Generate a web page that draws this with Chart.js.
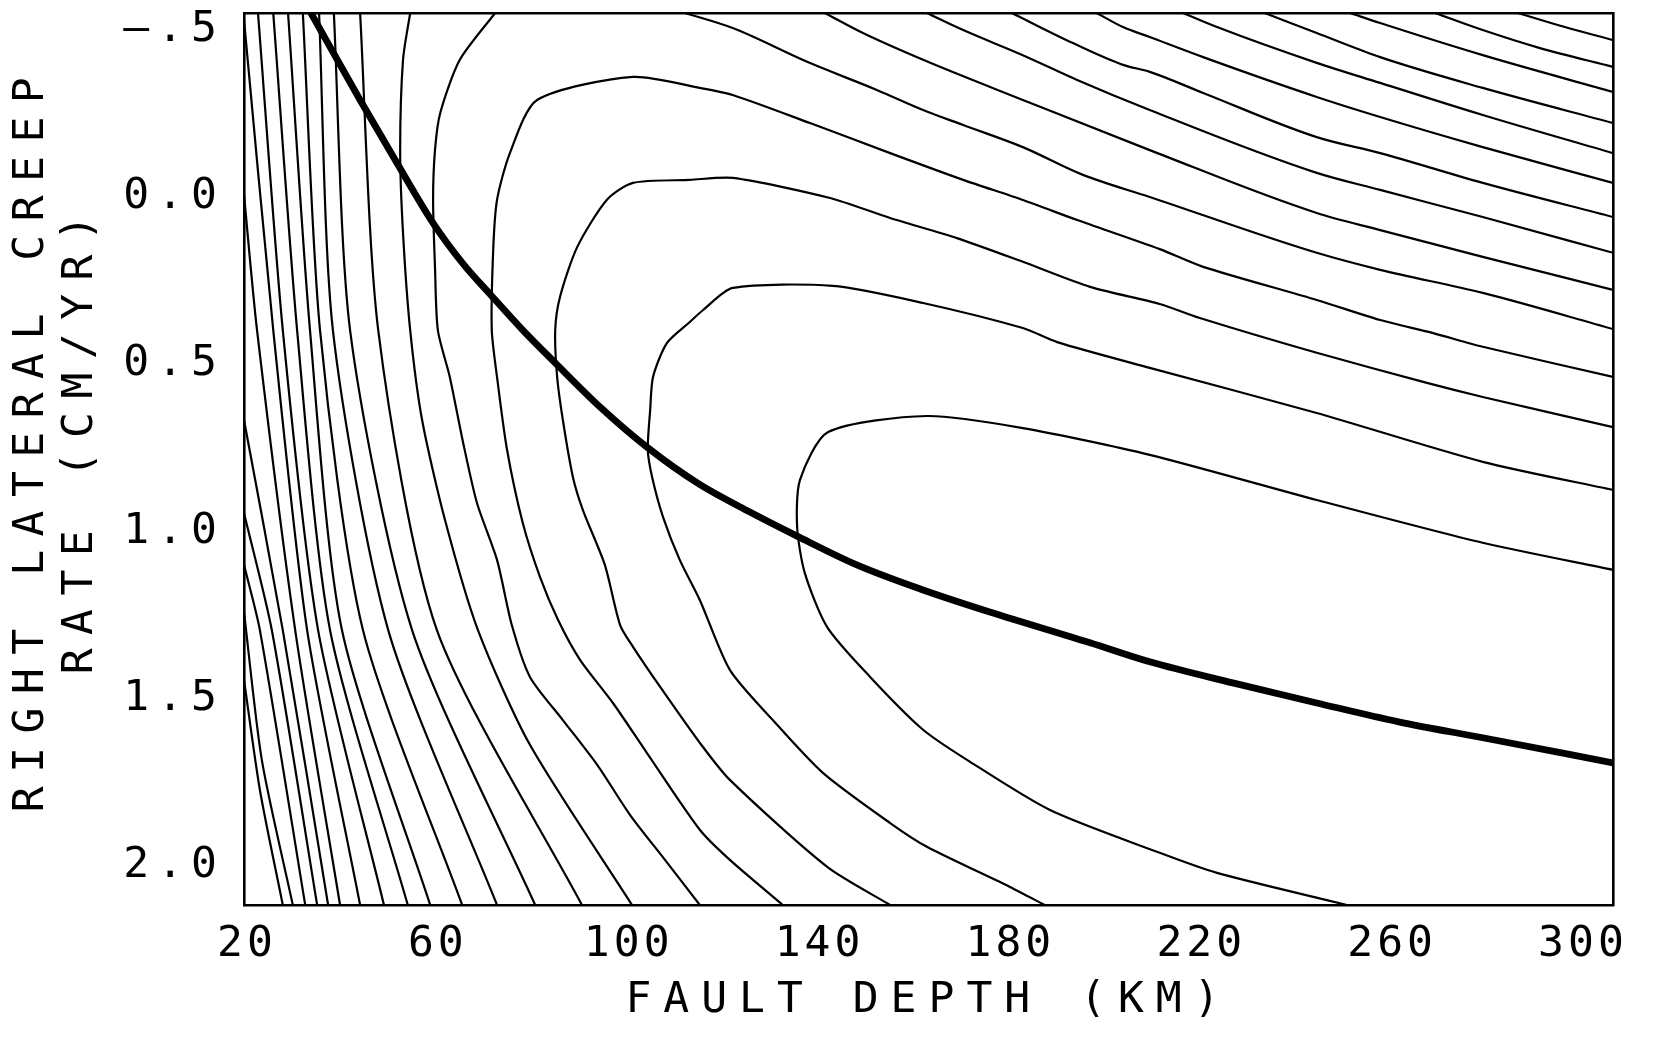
<!DOCTYPE html>
<html><head><meta charset="utf-8">
<style>html,body{margin:0;padding:0;background:#fff;}canvas{display:block;}</style>
<script src="https://cdn.jsdelivr.net/npm/chart.js@4.4.1/dist/chart.umd.min.js"></script>
</head><body>
<canvas id="c" width="1660" height="1038"></canvas>
<script>
// ---- axis labels ----
const xTicks = [20, 60, 100, 140, 180, 220, 260, 300];
const yTicks = [-0.5, 0, 0.5, 1, 1.5, 2];
const yTickLabels = ['\u2014.5', '0.0', '0.5', '1.0', '1.5', '2.0'];
const xTitle = 'FAULT DEPTH (KM)';
const yTitle = ['RIGHT LATERAL CREEP', 'RATE (CM/YR)'];

// ---- best-fit trade-off curve (fault depth km, creep cm/yr) ----
const bestFit = [[33.4,-0.55],[43.7,-0.290],[51.4,-0.102],[59.0,0.078],[65.3,0.200],[70.9,0.290],[77.8,0.398],[84.8,0.499],[94.0,0.628],[104.0,0.750],[114.7,0.858],[125.4,0.942],[135.3,1.014],[147.8,1.100],[161.7,1.175],[175.7,1.241],[196.7,1.333],[209.2,1.390],[226.6,1.453],[244.2,1.513],[261.6,1.570],[279.0,1.617],[306.3,1.692]];

// ---- contours crossing the left / bottom part ----
const cT1 = [[22.3,-0.55],[27.5,0.398],[34.9,1.295],[48.7,2.117]];
const cT2 = [[25.5,-0.55],[30.5,0.398],[37.4,1.295],[53.7,2.117]];
const cT3 = [[28.6,-0.55],[33.2,0.398],[39.9,1.295],[58.4,2.117]];
const cT4 = [[31.7,-0.55],[35.3,0.398],[44.3,1.295],[65.1,2.117]];
const cT5 = [[35.1,-0.55],[38.0,0.398],[49.6,1.295],[72.4,2.117]];
const cT6 = [[38.2,-0.55],[41.6,0.398],[54.6,1.295],[80.4,2.117]];
const cT7 = [[43.7,-0.55],[47.5,0.398],[59.8,1.295],[90.2,2.117]];
const cT8 = [[54.2,-0.55],[52.7,-0.41],[52.1,-0.14],[52.7,0.108],[54.2,0.398],[56.7,0.667],[61.5,0.966],[68.4,1.295],[79.3,1.638],[100.7,2.117]];
const cN1 = [[19.37,-0.529],[25.5,0.398],[32.6,1.295],[43.7,2.117]];
const cN2 = [[19.37,-0.006],[22.1,0.398],[30.1,1.295],[39.5,2.117]];
const cN3 = [[19.37,0.667],[27.5,1.295],[37.0,2.117]];
const cN4 = [[19.37,0.945],[25.2,1.295],[34.7,2.117]];
const cN5 = [[19.37,1.100],[22.7,1.295],[32.2,2.117]];
const cN6 = [[19.37,1.241],[23.1,1.683],[29.6,2.117]];
const cN7 = [[19.37,1.444],[22.7,1.773],[27.5,2.117]];

// ---- hook / loop contours around the minimum ----
const cA = [[72.0,-0.55],[64.6,-0.41],[60.5,-0.251],[59.4,-0.14],[59.0,0.009],[59.4,0.209],[60.0,0.398],[62.5,0.538],[65.3,0.735],[68.2,0.915],[72.4,1.085],[75.5,1.280],[79.3,1.435],[86.2,1.564],[93.4,1.698],[100.3,1.848],[107.6,1.982],[114.9,2.117]];
const cB = [[306.3,0.538],[279.0,0.448],[268.6,0.407],[257.5,0.368],[244.2,0.308],[220.4,0.209],[211.3,0.156],[194.0,0.069],[182.6,0.009],[170.1,-0.051],[154.8,-0.131],[138.0,-0.221],[121.8,-0.305],[114.9,-0.326],[100.9,-0.359],[80.8,-0.290],[75.1,-0.131],[72.4,0.009],[71.6,0.159],[71.3,0.398],[72.4,0.538],[74.5,0.756],[77.8,0.975],[81.4,1.136],[85.2,1.265],[89.8,1.384],[96.7,1.513],[103.8,1.662],[114.9,1.892],[121.2,1.982],[132.3,2.117]];
const cC = [[306.3,0.688],[279.0,0.598],[267.3,0.556],[244.2,0.466],[219.7,0.362],[211.3,0.320],[196.7,0.269],[182.6,0.194],[168.8,0.123],[154.8,0.063],[142.2,0.003],[121.8,-0.057],[112.8,-0.051],[100.9,-0.042],[95.4,0.009],[89.2,0.150],[85.6,0.299],[84.6,0.398],[85.0,0.538],[86.2,0.667],[88.3,0.837],[90.4,0.936],[95.0,1.100],[98.2,1.280],[100.9,1.345],[106.6,1.465],[114.9,1.632],[121.2,1.743],[141.6,2.003],[154.8,2.117]];
const cD = [[306.3,0.876],[279.0,0.792],[244.2,0.646],[209.2,0.511],[189.8,0.434],[182.6,0.392],[161.7,0.317],[142.8,0.266],[121.8,0.272],[115.6,0.338],[112.8,0.374],[108.0,0.437],[105.1,0.538],[104.5,0.637],[104.0,0.756],[104.9,0.837],[107.2,0.957],[110.7,1.085],[114.9,1.205],[121.2,1.414],[130.2,1.564],[140.7,1.722],[154.8,1.872],[162.5,1.943],[179.9,2.063],[187.2,2.117]];
const cE = [[306.3,1.115],[279.0,1.034],[244.2,0.906],[209.2,0.771],[182.6,0.691],[162.5,0.655],[141.8,0.703],[135.9,0.846],[135.3,0.987],[136.9,1.124],[141.6,1.286],[150.6,1.435],[161.7,1.593],[170.9,1.683],[188.3,1.833],[211.3,1.961],[223.3,2.021],[250.5,2.117]];

// ---- contours from top edge to right edge ----
const ca = [[286.4,-0.55],[296.2,-0.508],[306.3,-0.469]];
const cb = [[269.0,-0.55],[279.0,-0.499],[291.0,-0.445],[306.3,-0.389]];
const cc = [[251.2,-0.55],[257.5,-0.520],[279.0,-0.424],[306.3,-0.314]];
const cd = [[233.3,-0.55],[244.2,-0.490],[257.5,-0.418],[279.0,-0.326],[306.3,-0.221]];
const ce = [[216.2,-0.55],[223.3,-0.508],[244.2,-0.401],[257.5,-0.341],[279.0,-0.245],[306.3,-0.131]];
const cf = [[198.1,-0.55],[203.6,-0.508],[209.2,-0.478],[220.4,-0.418],[244.2,-0.299],[257.5,-0.239],[279.0,-0.149],[306.3,-0.042]];
const cg = [[180.3,-0.55],[193.1,-0.460],[203.6,-0.395],[209.2,-0.374],[220.4,-0.311],[244.2,-0.179],[257.5,-0.131],[279.0,-0.042],[306.3,0.060]];
const ch = [[162.5,-0.55],[170.1,-0.499],[182.6,-0.424],[194.0,-0.350],[209.2,-0.260],[244.2,-0.072],[257.5,-0.021],[279.0,0.060],[306.3,0.167]];
const ci = [[141.1,-0.55],[149.1,-0.490],[161.7,-0.410],[182.6,-0.290],[209.2,-0.140],[244.2,0.048],[257.5,0.099],[279.0,0.179],[306.3,0.278]];
const cj = [[111.8,-0.55],[121.8,-0.505],[137.4,-0.404],[152.0,-0.320],[161.7,-0.260],[170.1,-0.215],[182.6,-0.149],[195.2,-0.066],[209.2,0.000],[244.2,0.167],[257.5,0.218],[279.0,0.287],[306.3,0.395]];

const curvedContours = [cN7,cN6,cN5,cN4,cN3,cN2,cN1,cT1,cT2,cT3,cT4,cT5,cT6,cT7,cT8,cA,cB,cC,cD,cE];
const sweepContours = [ca,cb,cc,cd,ce,cf,cg,ch,ci,cj];

// ---- axis ranges ----
const X_MIN = 19.37, X_MAX = 306.3;
const Y_MIN = -0.55, Y_MAX = 2.117;

const FONT = "'DejaVu Sans Mono', 'Liberation Mono', monospace";
const toPts = arr => arr.map(([x, y]) => ({x, y}));
const lineStyle = {showLine: true, borderColor: '#000', pointRadius: 0, fill: false};

const datasets = [];
curvedContours.forEach(c => datasets.push(Object.assign({data: toPts(c), borderWidth: 2.2, tension: 0.25}, lineStyle)));
sweepContours.forEach(c => datasets.push(Object.assign({data: toPts(c), borderWidth: 2.2, cubicInterpolationMode: 'monotone'}, lineStyle)));
datasets.push(Object.assign({data: toPts(bestFit), borderWidth: 6.8, cubicInterpolationMode: 'monotone', borderCapStyle: 'round'}, lineStyle));

const textSpacing = {
  x: {ticks: 4, title: 12, dx: 0, dy: 0},
  y: {ticks: 8, title: 13.5, dx: 0, dy: -21}
};
const spacingPlugin = {
  id: 'spacing',
  beforeDraw(chart) {
    Object.keys(textSpacing).forEach(id => {
      const s = chart.scales[id];
      if (!s || s._spPatched) return;
      s._spPatched = true;
      const cfg = textSpacing[id];
      const oL = s.drawLabels.bind(s);
      s.drawLabels = function (area) {
        const c = this.ctx; c.save(); c.letterSpacing = cfg.ticks + 'px'; oL(area); c.restore();
      };
      const oT = s.drawTitle.bind(s);
      s.drawTitle = function () {
        const c = this.ctx; c.save(); c.letterSpacing = cfg.title + 'px'; c.translate(cfg.dx, cfg.dy); oT(); c.restore();
      };
    });
  }
};

const border = {display: true, color: '#000', width: 2.6};
new Chart(document.getElementById('c'), {
  type: 'scatter',
  data: {datasets},
  options: {
    responsive: false, animation: false, devicePixelRatio: 1,
    layout: {padding: {left: 0, top: 13, right: 47, bottom: 0}},
    plugins: {legend: {display: false}, tooltip: {enabled: false}},
    events: [],
    scales: {
      x: {
        type: 'linear', position: 'bottom', min: X_MIN, max: X_MAX,
        afterBuildTicks: s => { s.ticks = xTicks.map(v => ({value: v})); },
        afterFit: s => { s.height = 133; s.paddingLeft = 0; s.paddingRight = 0; },
        grid: {display: false, drawTicks: false}, border,
        ticks: {color: '#000', font: {family: FONT, size: 43}, padding: 14, maxRotation: 0, autoSkip: false,
          callback: v => String(v)},
        title: {display: true, text: xTitle, color: '#000', font: {family: FONT, size: 43, lineHeight: 1.15},
          padding: {top: 0, bottom: 12}}
      },
      y: {
        type: 'linear', position: 'left', reverse: true, min: Y_MIN, max: Y_MAX,
        afterBuildTicks: s => { s.ticks = yTicks.map(v => ({value: v})); },
        afterFit: s => { s.width = 244; s.paddingTop = 0; s.paddingBottom = 0; },
        grid: {display: false, drawTicks: false}, border,
        ticks: {color: '#000', font: {family: FONT, size: 43}, padding: 19, autoSkip: false,
          callback: v => yTickLabels[yTicks.indexOf(v)]},
        title: {display: true, text: yTitle, color: '#000', font: {family: FONT, size: 43, lineHeight: 1.14},
          padding: {top: 7, bottom: 0}}
      },
      x2: {
        type: 'linear', position: 'top', min: X_MIN, max: X_MAX,
        afterFit: s => { s.height = 0; s.paddingLeft = 0; s.paddingRight = 0; },
        grid: {display: false, drawTicks: false}, border, ticks: {display: false}
      },
      y2: {
        type: 'linear', position: 'right', min: Y_MIN, max: Y_MAX, reverse: true,
        afterFit: s => { s.width = 0; s.paddingTop = 0; s.paddingBottom = 0; },
        grid: {display: false, drawTicks: false}, border, ticks: {display: false}
      }
    }
  },
  plugins: [spacingPlugin]
});
</script>
</body></html>
